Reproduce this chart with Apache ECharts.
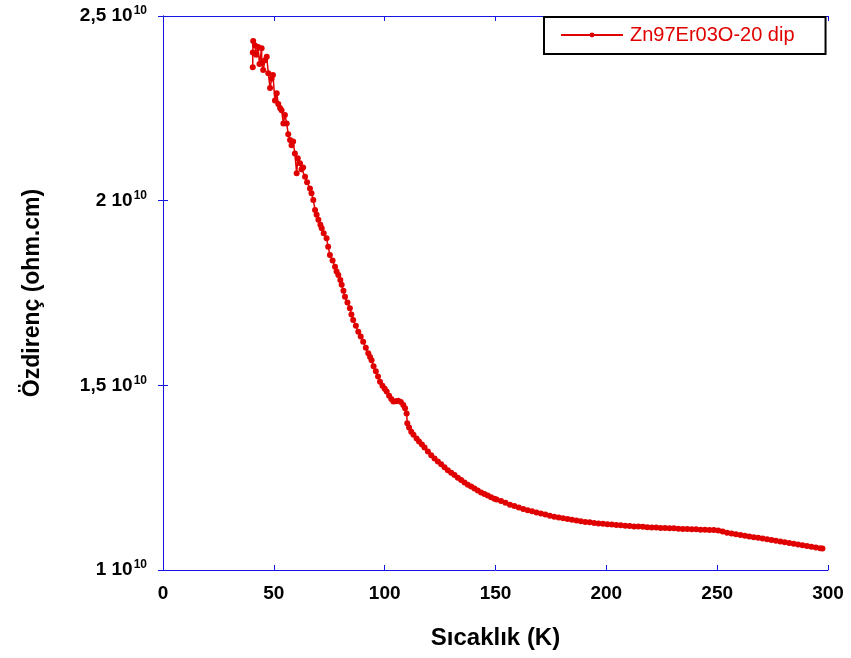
<!DOCTYPE html>
<html>
<head>
<meta charset="utf-8">
<script src="https://cdn.jsdelivr.net/npm/echarts@6/dist/echarts.min.js"></script>
<style>html,body{margin:0;padding:0;background:#fff}#c{width:851px;height:658px}</style>
</head>
<body>
<div id="c"></div>
<script>
var seriesName = 'Zn97Er03O-20 dip';
var xTitle = 'Sıcaklık (K)';
var yTitle = 'Özdirenç (ohm.cm)';
var xTicks = [0, 50, 100, 150, 200, 250, 300];
var yTicks = [1, 1.5, 2, 2.5]; // x 10^10
// Temperature (K)
var temperature = [
40.5,40.5,40.7,41.5,42.0,42.9,43.5,44.5,44.5,45.2,46.0,46.8,47.5,48.3,49.0,49.6,50.5,51.3,52.0,52.8,
53.5,54.3,55.0,55.8,56.5,57.3,58.0,58.7,59.5,60.3,60.8,61.8,62.5,63.2,64.1,65.0,66.3,67.0,67.8,68.6,
69.3,70.1,71.0,71.6,72.5,73.8,74.5,75.3,76.5,77.6,78.3,79.1,80.0,80.6,81.4,82.1,83.2,84.3,85.0,85.8,
87.0,88.1,89.2,90.3,91.5,92.6,93.4,94.1,95.0,96.0,97.0,97.9,99.0,100.0,100.9,102.0,103.0,103.9,105.0,106.1,
107.3,108.4,109.2,109.9,110.2,111.0,112.0,113.0,114.4,115.5,116.8,118.0,119.5,121.0,122.5,124.0,125.5,127.0,128.5,130.0,
131.5,133.0,134.5,136.0,137.5,139.0,140.5,142.0,143.5,145.0,146.5,148.0,149.5,150.5,152.5,154.5,156.5,158.5,160.5,162.5,
164.5,166.5,168.5,170.5,172.5,174.5,176.5,178.5,180.5,182.5,184.5,186.5,188.5,190.5,192.5,194.5,196.5,198.5,200.5,202.5,
204.5,206.5,208.5,210.5,212.5,214.5,216.5,218.5,220.5,222.5,224.5,226.5,228.5,230.5,232.5,234.5,236.5,238.5,240.5,242.5,
244.5,246.5,248.5,250.5,252.5,254.5,256.5,258.5,260.5,262.5,264.5,266.5,268.5,270.5,272.5,274.5,276.5,278.5,280.5,282.5,
284.5,286.5,288.5,290.5,292.5,294.5,296.5,297.5
];
// Resistivity (x 10^10 ohm.cm)
var resistivity = [
2.361,2.401,2.432,2.420,2.395,2.416,2.370,2.413,2.373,2.354,2.380,2.390,2.345,2.305,2.330,2.340,2.271,2.291,2.262,2.251,
2.245,2.209,2.232,2.209,2.180,2.164,2.150,2.160,2.128,2.074,2.115,2.101,2.085,2.090,2.065,2.050,2.033,2.020,2.002,1.975,
1.962,1.948,1.935,1.925,1.912,1.898,1.875,1.853,1.838,1.821,1.808,1.799,1.785,1.772,1.756,1.740,1.724,1.709,1.692,1.677,
1.661,1.645,1.632,1.618,1.602,1.587,1.577,1.568,1.552,1.538,1.524,1.510,1.499,1.491,1.483,1.472,1.463,1.456,1.457,1.458,
1.455,1.447,1.438,1.424,1.397,1.386,1.374,1.366,1.356,1.348,1.340,1.332,1.321,1.311,1.302,1.294,1.286,1.278,1.270,1.263,
1.257,1.250,1.244,1.237,1.231,1.226,1.221,1.215,1.210,1.206,1.202,1.197,1.193,1.191,1.187,1.182,1.177,1.173,1.169,1.165,
1.162,1.159,1.156,1.153,1.150,1.147,1.144,1.142,1.140,1.138,1.136,1.134,1.132,1.130,1.129,1.127,1.126,1.125,1.124,1.123,
1.122,1.121,1.120,1.119,1.118,1.118,1.117,1.116,1.115,1.115,1.114,1.114,1.113,1.113,1.112,1.111,1.111,1.110,1.110,1.109,
1.109,1.108,1.108,1.107,1.104,1.101,1.099,1.097,1.095,1.093,1.091,1.089,1.087,1.085,1.083,1.081,1.079,1.077,1.075,1.073,
1.071,1.069,1.067,1.065,1.063,1.061,1.059,1.058
];

var data = temperature.map(function (t, i) { return [t, resistivity[i]]; });
var blue = '#1414e6';
var red = '#e00000';
var font = 'Liberation Sans, Arial, sans-serif';

var chart = echarts.init(document.getElementById('c'), null, {renderer: 'canvas'});
chart.setOption({
  animation: false,
  backgroundColor: '#fff',
  grid: {left: 163, right: 23, top: 16, bottom: 88, containLabel: false},
  legend: {
    data: [{name: seriesName, itemStyle: {color: red}}],
    left: 544, top: 17,
    padding: [8, 31, 9, 16],
    itemWidth: 62, itemHeight: 6, itemGap: 0,
    borderColor: '#000', borderWidth: 2, backgroundColor: '#fff',
    textStyle: {color: red, fontSize: 20, fontFamily: font, padding: [0, 0, 0, 2]}
  },
  xAxis: [{
    type: 'value', min: xTicks[0], max: xTicks[xTicks.length - 1], interval: 50,
    name: xTitle, nameLocation: 'middle', nameGap: 56,
    nameTextStyle: {fontSize: 24, fontWeight: 'bold', fontFamily: font, color: '#000'},
    axisLine: {show: true, lineStyle: {color: blue, width: 1}},
    axisTick: {show: true, inside: true, length: 5, lineStyle: {color: blue}},
    axisLabel: {fontSize: 19, fontWeight: 'bold', fontFamily: font, color: '#000', margin: 14},
    splitLine: {show: false}
  }, {
    type: 'value', position: 'top', min: 0, max: 300, interval: 50,
    axisLine: {show: true, lineStyle: {color: blue, width: 1}},
    axisTick: {show: true, inside: true, length: 5, lineStyle: {color: blue}},
    axisLabel: {show: false}, splitLine: {show: false}
  }],
  yAxis: [{
    type: 'value', min: yTicks[0], max: yTicks[yTicks.length - 1], interval: 0.5,
    name: yTitle, nameLocation: 'middle', nameGap: 119, nameRotate: 90,
    nameTextStyle: {fontSize: 23, fontWeight: 'bold', fontFamily: font, color: '#000'},
    axisLine: {show: true, lineStyle: {color: blue, width: 1}},
    axisTick: {show: true, inside: true, length: 5, lineStyle: {color: blue}},
    axisLabel: {
      margin: 16, color: '#000',
      formatter: function (v) {
        return '{m|' + String(v).replace('.', ',') + ' 10}{s|10}';
      },
      rich: {
        m: {fontSize: 19, fontWeight: 'bold', fontFamily: font, color: '#000', lineHeight: 22},
        s: {fontSize: 12, fontWeight: 'bold', fontFamily: font, color: '#000', verticalAlign: 'top', lineHeight: 22, padding: [0, 0, 12, 1]}
      }
    },
    splitLine: {show: false}
  }, {
    type: 'value', position: 'right', min: 1, max: 2.5, interval: 0.5,
    axisLine: {show: true, lineStyle: {color: blue, width: 1}},
    axisTick: {show: true, inside: true, length: 5, lineStyle: {color: blue}},
    axisLabel: {show: false}, splitLine: {show: false}
  }],
  series: [{
    name: seriesName, type: 'line', xAxisIndex: 0, yAxisIndex: 0,
    data: data,
    symbol: 'circle', symbolSize: 6, showSymbol: true, showAllSymbol: true,
    lineStyle: {color: red, width: 1.5},
    itemStyle: {color: red},
    clip: true
  }]
});
</script>
</body>
</html>
